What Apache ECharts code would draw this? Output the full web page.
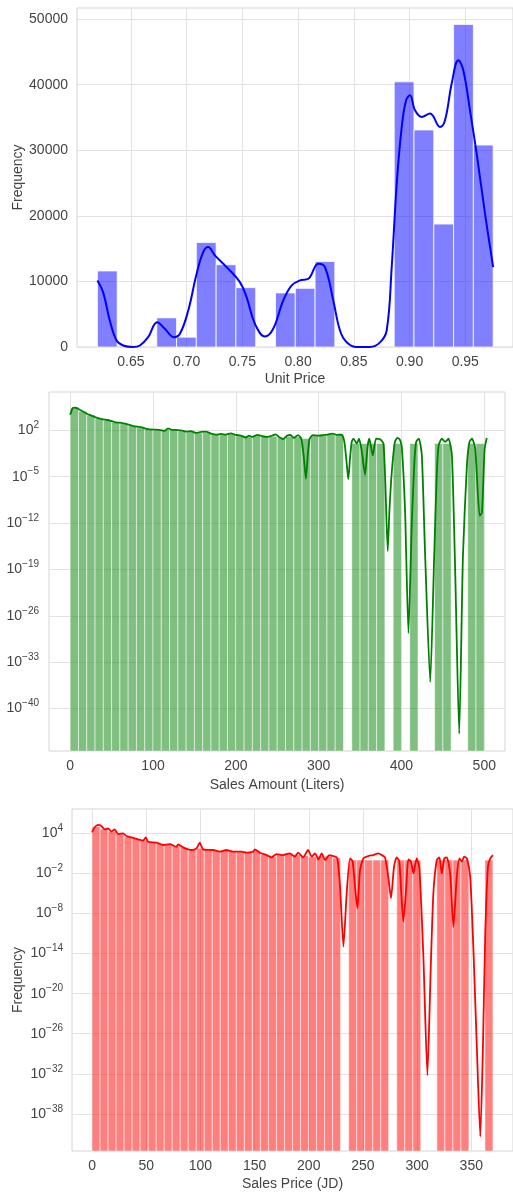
<!DOCTYPE html>
<html>
<head>
<meta charset="utf-8">
<script src="https://cdn.jsdelivr.net/npm/echarts@6/dist/echarts.min.js"></script>
<style>
html, body { margin: 0; padding: 0; background: #fff; }
#main { width: 513px; height: 1196px; }
</style>
</head>
<body>
<div id="main"></div>
<script>
// ---- Unit Price (20 bins) ----
var priceBinStart = 0.62;
var priceBinWidth = 0.01775;
var priceCounts = [11600, 0, 0, 4450, 1500, 15950, 12550, 9050, 0, 8250,
                   8950, 13050, 0, 0, 0, 40450, 33100, 18750, 49200, 30800];
var priceKdeX = [0.62, 0.6251, 0.6311, 0.6372, 0.6431, 0.652, 0.6581, 0.6655, 0.6736, 0.6805,
                 0.6886, 0.694, 0.7015, 0.709, 0.7149, 0.7194, 0.7254, 0.7359, 0.7478, 0.7538,
                 0.7613, 0.7703, 0.7777, 0.7867, 0.7943, 0.8017, 0.8092, 0.8182, 0.8241, 0.8316,
                 0.8376, 0.8436, 0.8526, 0.8645, 0.8735, 0.8795, 0.884, 0.8885, 0.893, 0.8969,
                 0.9004, 0.9049, 0.9109, 0.9184, 0.9273, 0.9318, 0.9378, 0.9438, 0.9482, 0.9542,
                 0.9602, 0.9677, 0.975];
var priceKdeY = [10150, 8370, 4050, 990, 230, 0, 230, 1500, 3790, 2780,
                 1500, 2010, 5570, 11180, 14470, 15240, 13970, 12180, 9900, 7600,
                 3540, 1600, 2780, 7100, 9390, 10150, 10410, 12700, 12180, 7100,
                 2520, 730, 0, 0, 700, 2520, 12180, 24900, 33560, 37630,
                 38400, 36100, 35080, 35600, 33560, 34580, 40180, 43740, 42210, 36100,
                 29500, 20340, 12180];
var priceTicks = [0.65, 0.70, 0.75, 0.80, 0.85, 0.90, 0.95];
var freqTicks = [0, 10000, 20000, 30000, 40000, 50000];

// ---- Sales Amount (Liters), 50 bins ----
var amountBinStart = 0;
var amountBinWidth = 10;
var amountCounts = [200000, 70800, 20000, 6300, 3200, 1600, 1000, 500, 280, 160,
                    112, 126, 126, 79, 56, 40, 50, 28, 25, 28,
                    16, 13, 16, 11, 13, 8, 13, 10, 6, 16,
                    16, 25, 22, 0, 1, 1, 1, 1, 0, 1,
                    0, 1, 0, 0, 1, 1, 0, 0, 1, 1];
var amountKdeX = [0, 3, 6, 9, 12, 16, 20, 25, 30, 36, 42, 48, 55, 60, 66, 72, 78, 84, 90, 96,
                  102, 108, 114, 118, 122, 128, 134, 140, 146, 152, 158, 164, 170, 176, 182, 188, 194, 200, 206, 212,
                  216, 220, 226, 232, 238, 244, 248, 252, 257, 262, 266, 270, 275, 279, 282, 284.6, 287, 289, 293, 300,
                  305, 311, 317, 322, 327.7, 331, 333.5, 335.8, 338, 340, 342, 346, 348.7, 351.9, 356, 359, 361.2, 365.3, 369.3, 374.2,
                  378.2, 380.5, 383.4, 385.5, 388.3, 392, 395, 398, 400.4, 404.4, 408.4, 412.5, 415.5, 417.7, 421, 424.6, 428.6, 434.7, 439.5, 442.5,
                  444.8, 448.8, 452.8, 456.8, 460.9, 464.9, 469.7, 474.2, 479, 482, 485.1, 489.1, 494.4, 497.2, 500.4, 503];
var amountKdeY = [2.2e4, 2.2e5, 2.5e5, 2.0e5, 1.1e5, 6.3e4, 3.2e4, 1.8e4, 1.0e4, 6.0e3, 4.0e3, 3.0e3, 1.6e3, 1.4e3, 1.0e3, 630, 400, 320, 200, 140,
                  126, 112, 80, 200, 126, 112, 100, 63, 71, 40, 56, 63, 32, 22, 28, 22, 35, 20, 16, 8,
                  16, 10, 20, 12.6, 10, 16, 25, 10, 4.5, 16, 20, 7, 18, 5.6, 1e-2, 5e-6, 3e-2, 5, 18, 16,
                  18, 22, 32, 20, 22, 2, 3e-3, 4e-6, 1e-2, 2, 5.6, 1, 5.4, 0.1, 2e-5, 0.3, 5.4, 1.6e-2, 5.4, 4.3,
                  1, 1e-6, 6e-17, 1e-10, 5e-5, 1.6, 7, 4, 0.3, 4e-11, 2.5e-29, 1.3e-12, 1e-3, 1.8, 5.6, 1.6e-2, 1e-17, 1e-36, 1e-17, 1e-5,
                  0.5, 5.4, 1.8, 5.4, 1.6e-2, 3e-20, 1.6e-44, 1e-17, 5e-4, 1.6, 5.6, 0.16, 1.3e-11, 4e-11, 0.16, 7];
var amountTicks = [0, 100, 200, 300, 400, 500];
var amountLogTicks = [1e2, 1e-5, 1e-12, 1e-19, 1e-26, 1e-33, 1e-40];

// ---- Sales Price (JD), 50 bins ----
var salesBinStart = 0;
var salesBinWidth = 7.4;
var salesCounts = [100000, 44700, 20000, 8900, 3200, 1600, 1000, 500, 280, 220,
                   126, 80, 35, 60, 35, 25, 28, 20, 18, 16,
                   25, 7, 3, 6, 9, 6, 5, 3, 4, 4,
                   2, 0, 1, 1, 1, 1, 1, 0, 1, 1,
                   1, 0, 0, 1, 1, 1, 1, 0, 0, 1];
var salesKdeX = [0, 2.5, 5.5, 8.6, 11.7, 14.8, 17.9, 20.9, 24, 28.6, 31.7, 36.3, 42.5, 47.1, 49.6, 51.7, 59.4, 65.6, 71.7, 77.9,
                 79.4, 84, 91.7, 96.4, 99.4, 102.5, 111.7, 117.9, 124, 130.2, 137.9, 142.5, 148.7, 150.2, 154.8, 161, 165.6, 170.2, 176.4, 182.5,
                 187.1, 190.2, 194.8, 199.4, 202.7, 205.8, 208.9, 212, 215, 219, 224.3, 226.4, 228.9, 232, 235, 238.1, 240.5, 242.7, 244.9, 247.3,
                 250.4, 255, 259.6, 264.2, 267.3, 270.4, 273.4, 275.9, 278.7, 281.1, 283.6, 287.3, 289.8, 291.9, 294.4, 296.6, 299.6, 302.1, 305.8, 309.5,
                 312.6, 315, 318.1, 320.6, 322.7, 325.2, 327.4, 330.5, 333.5, 336.6, 339.1, 341.3, 343.4, 345.9, 349, 352.1, 355.2, 358.3, 360.7, 362.9,
                 365.4, 367.5, 370];
var salesKdeY = [1.4e4, 8e4, 1.8e5, 1.26e5, 4e4, 5.6e4, 1.8e4, 4e4, 8e3, 1e4, 4e3, 2.5e3, 1.26e3, 800, 2.5e3, 560, 400, 180, 250, 100,
                 220, 80, 32, 56, 400, 40, 32, 18, 32, 18, 18, 12.6, 18, 40, 12.6, 5.6, 2.5, 8, 5.6, 10,
                 3.2, 12.6, 2.5, 32, 3.2, 10, 1.26, 10, 1, 5.6, 3.2, 1.8, 1e-4, 1.1e-13, 1e-5, 1.8, 0.6, 1e-4, 6e-8, 3e-2,
                 1.8, 4, 5.6, 10, 5.6, 2.5, 3e-3, 2e-6, 0.1, 2.5, 0.6, 6e-10, 3e-5, 1.26, 0.6, 1e-2, 1.8, 6e-2, 3e-15, 6e-33,
                 1e-16, 1e-5, 1, 2.5, 1e-2, 1.8, 2.5, 1e-2, 1e-10, 3e-3, 1.8, 0.6, 3.2, 1.8, 3e-3, 1e-14, 4e-29, 4e-42, 4e-29, 1e-11,
                 0.1, 1.8, 5.6];
var salesTicks = [0, 50, 100, 150, 200, 250, 300, 350];
var salesLogTicks = [1e4, 1e-2, 1e-8, 1e-14, 1e-20, 1e-26, 1e-32, 1e-38];

var TEXT = '#444';
var GRID_LINE = '#e2e2e2';
var FRAME = '#d4d4d4';
var FONT = '"Liberation Sans", Arial, sans-serif';

function binData(start, width, counts) {
    var out = [];
    for (var i = 0; i < counts.length; i++) {
        if (counts[i] > 0) out.push([start + i * width, start + (i + 1) * width, counts[i]]);
    }
    return out;
}

function pairs(xs, ys) {
    return xs.map(function (x, i) { return [x, ys[i]]; });
}

// rectangles from bin edge to bin edge, down to the bottom of the axis
function histRender(base, fill, edge) {
    return function (params, api) {
        var a = api.coord([api.value(0), api.value(2)]);
        var b = api.coord([api.value(1), base]);
        return {
            type: 'rect',
            shape: { x: a[0], y: a[1], width: b[0] - a[0], height: b[1] - a[1] },
            style: { fill: fill, stroke: edge, lineWidth: 1 }
        };
    };
}

function powLabel(v) {
    var e = Math.round(Math.log10(v));
    return '{b|10}{s|' + (e < 0 ? '\u2212' + (-e) : e) + '}';
}

var powRich = {
    b: { fontSize: 14, color: TEXT, fontFamily: FONT, lineHeight: 20 },
    s: { fontSize: 10, color: TEXT, fontFamily: FONT, lineHeight: 12, verticalAlign: 'top' }
};

function xAxisFor(grid, min, max, ticks, name, nameGap, fmt) {
    return {
        gridIndex: grid, type: 'value', min: min, max: max,
        axisLine: { show: false },
        axisTick: { show: false, customValues: ticks },
        axisLabel: { customValues: ticks, margin: 8, color: TEXT, fontSize: 14, fontFamily: FONT, formatter: fmt },
        splitLine: { show: true, lineStyle: { color: GRID_LINE, width: 1 } },
        name: name, nameLocation: 'middle', nameGap: nameGap, nameMoveOverlap: false,
        nameTextStyle: { color: TEXT, fontSize: 14, fontFamily: FONT }
    };
}

var myChart = echarts.init(document.getElementById('main'), null, { renderer: 'canvas' });

var option = {
    animation: false,
    backgroundColor: '#fff',
    textStyle: { fontFamily: FONT },
    grid: [
        { left: 77, top: 8, width: 436, height: 339, show: true, borderColor: FRAME, borderWidth: 1, outerBoundsMode: 'none', containLabel: false },
        { left: 49, top: 392, width: 456, height: 359, show: true, borderColor: FRAME, borderWidth: 1, outerBoundsMode: 'none', containLabel: false },
        { left: 72, top: 809, width: 441, height: 342, show: true, borderColor: FRAME, borderWidth: 1, outerBoundsMode: 'none', containLabel: false }
    ],
    xAxis: [
        xAxisFor(0, 0.6017, 0.9928, priceTicks, 'Unit Price', 25, function (v) { return v.toFixed(2); }),
        xAxisFor(1, -25.6, 525, amountTicks, 'Sales Amount (Liters)', 27, function (v) { return String(v); }),
        xAxisFor(2, -18.5, 388.5, salesTicks, 'Sales Price (JD)', 26, function (v) { return String(v); })
    ],
    yAxis: [
        {
            gridIndex: 0, type: 'value', min: 0, max: 51700,
            axisLine: { show: false },
            axisTick: { show: false, customValues: freqTicks },
            axisLabel: { customValues: freqTicks, margin: 9, color: TEXT, fontSize: 14, fontFamily: FONT,
                         formatter: function (v) { return String(v); } },
            splitLine: { show: true, lineStyle: { color: GRID_LINE, width: 1 } },
            name: 'Frequency', nameLocation: 'middle', nameGap: 52, nameMoveOverlap: false,
            nameTextStyle: { color: TEXT, fontSize: 14, fontFamily: FONT }
        },
        {
            gridIndex: 1, type: 'log', logBase: 10, min: 4e-47, max: 6e7,
            axisLine: { show: false },
            axisTick: { show: false, customValues: amountLogTicks },
            axisLabel: { customValues: amountLogTicks, margin: 10, formatter: powLabel, rich: powRich },
            splitLine: { show: true, lineStyle: { color: GRID_LINE, width: 1 } }
        },
        {
            gridIndex: 2, type: 'log', logBase: 10, min: 2.8e-44, max: 4.4e7,
            axisLine: { show: false },
            axisTick: { show: false, customValues: salesLogTicks },
            axisLabel: { customValues: salesLogTicks, margin: 9, formatter: powLabel, rich: powRich },
            splitLine: { show: true, lineStyle: { color: GRID_LINE, width: 1 } },
            name: 'Frequency', nameLocation: 'middle', nameGap: 47, nameMoveOverlap: false,
            nameTextStyle: { color: TEXT, fontSize: 14, fontFamily: FONT }
        }
    ],
    series: [
        {
            type: 'custom', xAxisIndex: 0, yAxisIndex: 0,
            renderItem: histRender(0, 'rgba(0,0,255,0.5)', 'rgba(255,255,255,0.8)'),
            encode: { x: [0, 1], y: 2 },
            data: binData(priceBinStart, priceBinWidth, priceCounts)
        },
        {
            type: 'line', xAxisIndex: 0, yAxisIndex: 0,
            data: pairs(priceKdeX, priceKdeY),
            smooth: 0.4, showSymbol: false, symbol: 'none',
            lineStyle: { color: '#0000ff', width: 2 }
        },
        {
            type: 'custom', xAxisIndex: 1, yAxisIndex: 1,
            renderItem: histRender(4e-47, 'rgba(0,128,0,0.5)', 'rgba(255,255,255,0.55)'),
            encode: { x: [0, 1], y: 2 },
            data: binData(amountBinStart, amountBinWidth, amountCounts)
        },
        {
            type: 'line', xAxisIndex: 1, yAxisIndex: 1,
            data: pairs(amountKdeX, amountKdeY),
            smooth: 0.2, showSymbol: false, symbol: 'none',
            lineStyle: { color: '#008000', width: 1.8 }
        },
        {
            type: 'custom', xAxisIndex: 2, yAxisIndex: 2,
            renderItem: histRender(2.8e-44, 'rgba(255,0,0,0.5)', 'rgba(255,255,255,0.55)'),
            encode: { x: [0, 1], y: 2 },
            data: binData(salesBinStart, salesBinWidth, salesCounts)
        },
        {
            type: 'line', xAxisIndex: 2, yAxisIndex: 2,
            data: pairs(salesKdeX, salesKdeY),
            smooth: 0.2, showSymbol: false, symbol: 'none',
            lineStyle: { color: '#ff0000', width: 1.8 }
        }
    ]
};

myChart.setOption(option);
</script>
</body>
</html>
